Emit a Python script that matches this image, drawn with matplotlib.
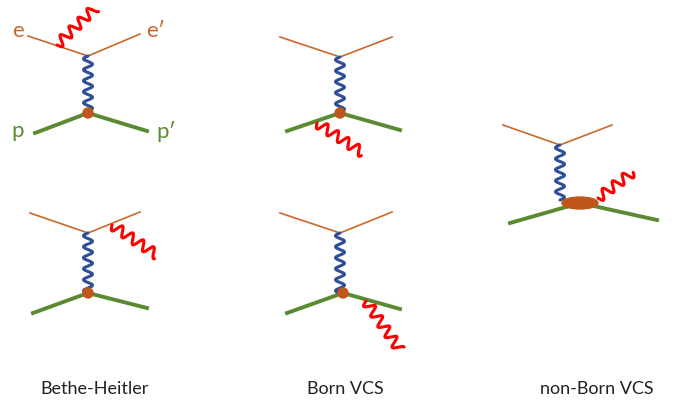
import numpy as np
import matplotlib.pyplot as plt
from matplotlib.patches import Ellipse, Circle

ORANGE = '#c8692a'; GREEN = '#5a8a32'; BLUE = '#2f4f9a'; RED = '#ff0000'; DOT = '#c0561a'

# diagrams: electron line (in, vertex, out), virtual photon (top, bottom), proton (in, vertex, out), real photon (start, end)
diagrams = [
    dict(e=[(28, 36), (88, 56), (140, 34)], g=[(88, 56), (88, 113)], p=[(35, 133), (88, 113), (147, 131)], r=[(57, 45), (95, 8)], blob=False),
    dict(e=[(280, 37), (340, 57), (392, 37)], g=[(340, 57), (340, 113)], p=[(287, 131), (340, 113), (400, 130)], r=[(317, 123), (363, 153)], blob=False),
    dict(e=[(30, 213), (88, 233), (140, 212)], g=[(88, 233), (88, 293)], p=[(33, 313), (88, 293), (147, 308)], r=[(112, 225), (157, 255)], blob=False),
    dict(e=[(280, 213), (340, 233), (392, 212)], g=[(340, 233), (340, 293)], p=[(287, 313), (343, 293), (400, 309)], r=[(366, 301), (400, 350)], blob=False),
    dict(e=[(503, 125), (560, 145), (612, 125)], g=[(560, 145), (560, 200)], p=[(510, 223), (580, 203), (657, 220)], r=[(598, 198), (633, 172)], blob=True),
]
labels = ['Bethe-Heitler', 'Born VCS', 'non-Born VCS']
label_x = [95, 345, 597]

def wavy(ax, a, b, amp, wl, color, lw):
    a = np.array(a, float); b = np.array(b, float)
    d = b - a; L = np.hypot(*d); u = d / L; n = np.array([-u[1], u[0]])
    t = np.linspace(0, L, 400)
    s = amp * np.sin(2 * np.pi * t / wl)
    pts = a[None, :] + t[:, None] * u[None, :] + s[:, None] * n[None, :]
    ax.plot(pts[:, 0], pts[:, 1], color=color, lw=lw, solid_capstyle='round', zorder=3)

fig = plt.figure(figsize=(6.73, 4.07), dpi=100)
ax = fig.add_axes([0, 0, 1, 1])
ax.set_xlim(0, 673); ax.set_ylim(407, 0); ax.axis('off')

for d in diagrams:
    xs, ys = zip(*d['e']); ax.plot(xs, ys, color=ORANGE, lw=1.2, zorder=2)
    xs, ys = zip(*d['p']); ax.plot(xs, ys, color=GREEN, lw=2.8, zorder=2)
    wavy(ax, d['g'][0], d['g'][1], 4.5, 11, BLUE, 2.2)
    wavy(ax, d['r'][0], d['r'][1], 5, 12.5, RED, 2.2)
    vx, vy = d['p'][1]
    if d['blob']:
        ax.add_patch(Ellipse((vx, vy), 36, 12, color=DOT, zorder=4))
    else:
        ax.add_patch(Circle((vx, vy), 5, color=DOT, zorder=4))

ax.text(18, 31, 'e', color=ORANGE, fontsize=16, ha='center', va='center', family='Lato')
ax.text(156, 31, 'e\u2032', color=ORANGE, fontsize=16, ha='center', va='center', family='Lato')
ax.text(18, 131, 'p', color=GREEN, fontsize=16, ha='center', va='center', family='Lato')
ax.text(166, 131, 'p\u2032', color=GREEN, fontsize=16, ha='center', va='center', family='Lato')
for x, t in zip(label_x, labels):
    ax.text(x, 389, t, fontsize=13, ha='center', va='center', color='#222222', family='Lato')

fig.savefig('out.png', dpi=100)
